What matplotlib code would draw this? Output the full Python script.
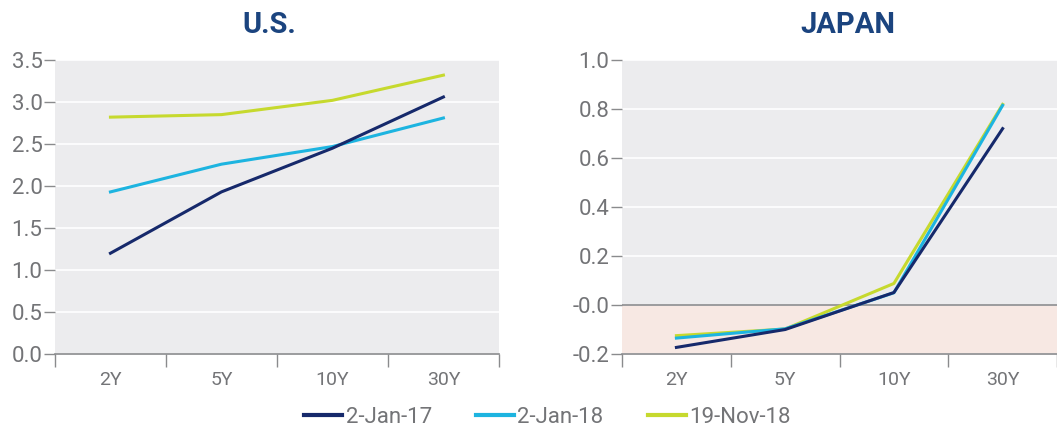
import matplotlib.pyplot as plt
import numpy as np
from matplotlib.lines import Line2D

tenors = ["2Y", "5Y", "10Y", "30Y"]
series_names = ["2-Jan-17", "2-Jan-18", "19-Nov-18"]
colors = ["#16296b", "#1db4e0", "#c6d92e"]

us_jan17 = [1.20, 1.93, 2.45, 3.06]
us_jan18 = [1.93, 2.26, 2.47, 2.81]
us_nov18 = [2.82, 2.85, 3.02, 3.32]

jp_jan17 = [-0.173, -0.100, 0.051, 0.72]
jp_jan18 = [-0.135, -0.097, 0.050, 0.815]
jp_nov18 = [-0.125, -0.098, 0.088, 0.819]

us_ticks = [0.0, 0.5, 1.0, 1.5, 2.0, 2.5, 3.0, 3.5]
jp_ticks = [-0.2, 0.0, 0.2, 0.4, 0.6, 0.8, 1.0]
jp_labels = ["-0.2", "-0.0", "0.2", "0.4", "0.6", "0.8", "1.0"]

plt.rcParams["font.family"] = ["Roboto", "DejaVu Sans"]
grey = "#737477"
bg = "#ececee"
title_col = "#1b447f"

fig = plt.figure(figsize=(10.57, 4.30), dpi=100)
ax1 = fig.add_axes([0.052, 0.1767, 0.420, 0.6837])
ax2 = fig.add_axes([0.5885, 0.1767, 0.4115, 0.6837])

x = np.arange(len(tenors))


def style(ax, ticks, labels, ylim):
    ax.set_facecolor(bg)
    ax.set_xlim(-0.5, 3.5)
    ax.set_ylim(*ylim)
    for s in ["top", "right", "left"]:
        ax.spines[s].set_visible(False)
    ax.spines["bottom"].set_color("#8a8b8d")
    ax.spines["bottom"].set_linewidth(1.2)
    ax.set_yticks(ticks)
    ax.set_yticklabels(labels)
    ax.set_xticks(x)
    ax.set_xticklabels(tenors)
    ax.set_xticks(np.arange(-0.5, 4, 1), minor=True)
    ax.tick_params(axis="x", which="major", length=0, pad=12, labelsize=14, labelcolor=grey)
    ax.tick_params(axis="x", which="minor", length=9, width=1, color="#8a8b8d", direction="out")
    ax.tick_params(axis="y", length=8, width=1, color="#8a8b8d", labelsize=16, labelcolor=grey, pad=1)
    ax.grid(axis="y", color="white", linewidth=1.2)
    ax.set_axisbelow(True)


style(ax1, us_ticks, [f"{t:.1f}" for t in us_ticks], (0, 3.5))
style(ax2, jp_ticks, jp_labels, (-0.2, 1.0))

ax2.axhspan(-0.2, 0, color="#f7e8e3", zorder=0.5)
ax2.axhline(0, color="#8a8b8d", linewidth=1.2, zorder=1)

ax1.plot(x, us_nov18, color=colors[2], linewidth=2.2, zorder=3)
ax1.plot(x, us_jan18, color=colors[1], linewidth=2.2, zorder=3)
ax1.plot(x, us_jan17, color=colors[0], linewidth=2.2, zorder=3)

ax2.plot(x, jp_nov18, color=colors[2], linewidth=2.2, zorder=3)
ax2.plot(x, jp_jan18, color=colors[1], linewidth=2.2, zorder=3)
ax2.plot(x, jp_jan17, color=colors[0], linewidth=2.2, zorder=3)

fig.text(269 / 1057, 1 - 25 / 430, "U.S.", ha="center", va="center",
         fontsize=21, fontweight="bold", color=title_col)
fig.text(848 / 1057, 1 - 25 / 430, "JAPAN", ha="center", va="center",
         fontsize=21, fontweight="bold", color=title_col)

handles = [Line2D([0], [0], color=c, linewidth=3) for c in colors]
fig.legend(handles, series_names, loc="center", bbox_to_anchor=(0.518, 0.03),
           ncol=3, frameon=False, fontsize=16, handlelength=1.7, handletextpad=0.15,
           columnspacing=2.0, labelcolor=grey)

fig.savefig("out.png", dpi=100)
